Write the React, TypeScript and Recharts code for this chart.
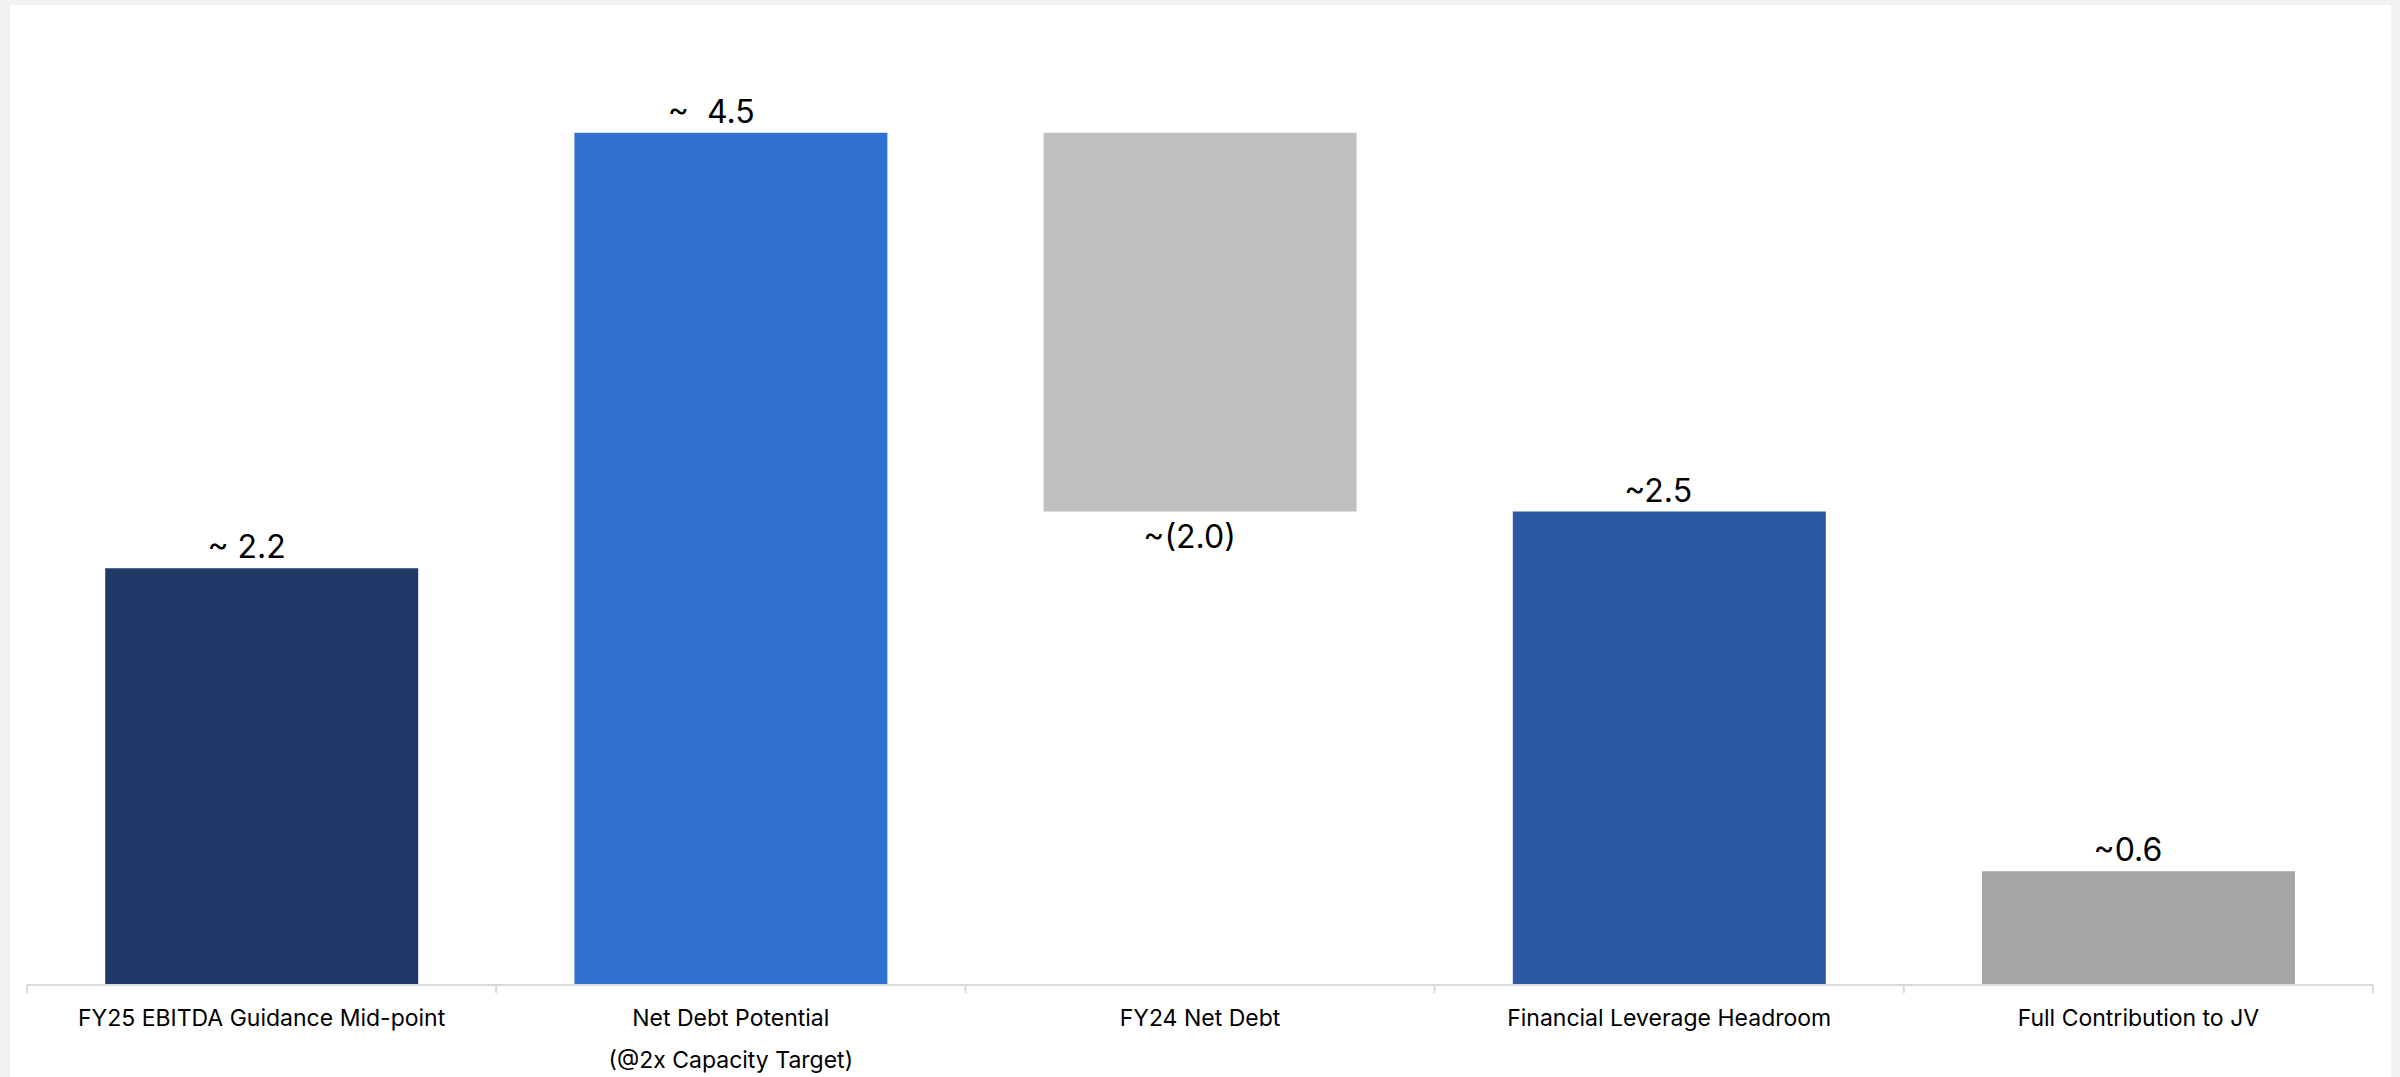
import React from 'react';
import { BarChart, Bar, XAxis, YAxis, Cell, LabelList } from 'recharts';

// Capacity bridge (US$bn, approximate)
const categories = [
  'FY25 EBITDA Guidance Mid-point',
  'Net Debt Potential\n(@2x Capacity Target)',
  'FY24 Net Debt',
  'Financial Leverage Headroom',
  'Full Contribution to JV',
];
const values = [2.2, 4.5, -2.0, 2.5, 0.6];
const valueLabels = ['~ 2.2', '~  4.5', '~(2.0)', '~2.5', '~0.6'];
const barColors = ['#1F3A68', '#3171D1', '#BFBFBF', '#2C59A4', '#A6A6A6'];
const yDomain = [0, 5];

// Negative steps hang down from the previous bar's top (waterfall style)
const data = categories.map((name, i) => {
  const v = values[i];
  const prev = i > 0 ? values[i - 1] : 0;
  const range = v < 0 ? [prev + v, prev] : [0, v];
  return { name, range, label: valueLabels[i], negative: v < 0 };
});

const CHART_W = 2381;
const CHART_H = 1072;
const MARGIN = { top: 33, right: 18, bottom: 0, left: 17 };
const AXIS_H = 92;
const BAND = (CHART_W - MARGIN.left - MARGIN.right) / categories.length;

const FONT = 'Inter, "Noto Sans", Arial, sans-serif';
const TEXT = '#000000';
const AXIS_GREY = '#D9D9D9';
const VALUE_SIZE = 32;
const CATEGORY_SIZE = 23;

let measureCtx: CanvasRenderingContext2D | null = null;
const measure = (s: string, size: number) => {
  if (!measureCtx) measureCtx = document.createElement('canvas').getContext('2d');
  if (!measureCtx) return s.length * size * 0.55;
  measureCtx.font = `${size}px Inter`;
  return measureCtx.measureText(s).width;
};

// The number sits centred on the bar; the "~" prefix hangs to its left
const ValueLabel = (props: any) => {
  const { x, y, width, height, value, index } = props;
  const text = String(value);
  const m = text.match(/^(~\s*)(.*)$/);
  const prefix = m ? m[1] : '';
  const num = m ? m[2] : text;
  const cx = Number(x) + Number(width) / 2;
  const startX = cx - measure(num, VALUE_SIZE) / 2 - measure(prefix, VALUE_SIZE);
  const below = data[index]?.negative;
  const baseline = below ? Number(y) + Number(height) + 36 : Number(y) - 10;
  return (
    <text
      x={startX}
      y={baseline}
      textAnchor="start"
      fontFamily={FONT}
      fontSize={VALUE_SIZE}
      fill={TEXT}
      style={{ whiteSpace: 'pre' }}
    >
      {text}
    </text>
  );
};

// Category labels with separator ticks on the band edges
const CategoryTick = (props: any) => {
  const { x, y, payload, index } = props;
  const lines = String(payload.value).split('\n');
  const half = BAND / 2;
  const last = index === categories.length - 1;
  return (
    <g>
      <line x1={x - half} x2={x - half} y1={y} y2={y + 8} stroke={AXIS_GREY} strokeWidth={2} />
      {last && <line x1={x + half} x2={x + half} y1={y} y2={y + 8} stroke={AXIS_GREY} strokeWidth={2} />}
      <text x={x} y={y + 41} textAnchor="middle" fontFamily={FONT} fontSize={CATEGORY_SIZE} fill={TEXT}>
        {lines.map((l, i) => (
          <tspan key={i} x={x} dy={i === 0 ? 0 : 42}>
            {l}
          </tspan>
        ))}
      </text>
    </g>
  );
};

export default function App() {
  return (
    <div
      style={{
        position: 'absolute',
        left: 0,
        top: 0,
        width: 2400,
        height: 1077,
        background: '#F2F2F2',
        overflow: 'hidden',
      }}
    >
      <div
        style={{
          position: 'absolute',
          left: 10,
          top: 5,
          width: CHART_W,
          height: CHART_H,
          background: '#FFFFFF',
        }}
      >
        <BarChart width={CHART_W} height={CHART_H} data={data} margin={MARGIN} barCategoryGap="16.667%">
          <XAxis
            dataKey="name"
            interval={0}
            height={AXIS_H}
            tickLine={false}
            tickSize={0}
            tickMargin={0}
            axisLine={{ stroke: AXIS_GREY, strokeWidth: 2 }}
            tick={<CategoryTick />}
          />
          <YAxis hide type="number" domain={yDomain} allowDataOverflow />
          <Bar dataKey="range" isAnimationActive={false}>
            {data.map((d, i) => (
              <Cell key={d.name} fill={barColors[i]} />
            ))}
            <LabelList dataKey="label" content={<ValueLabel />} />
          </Bar>
        </BarChart>
      </div>
    </div>
  );
}
